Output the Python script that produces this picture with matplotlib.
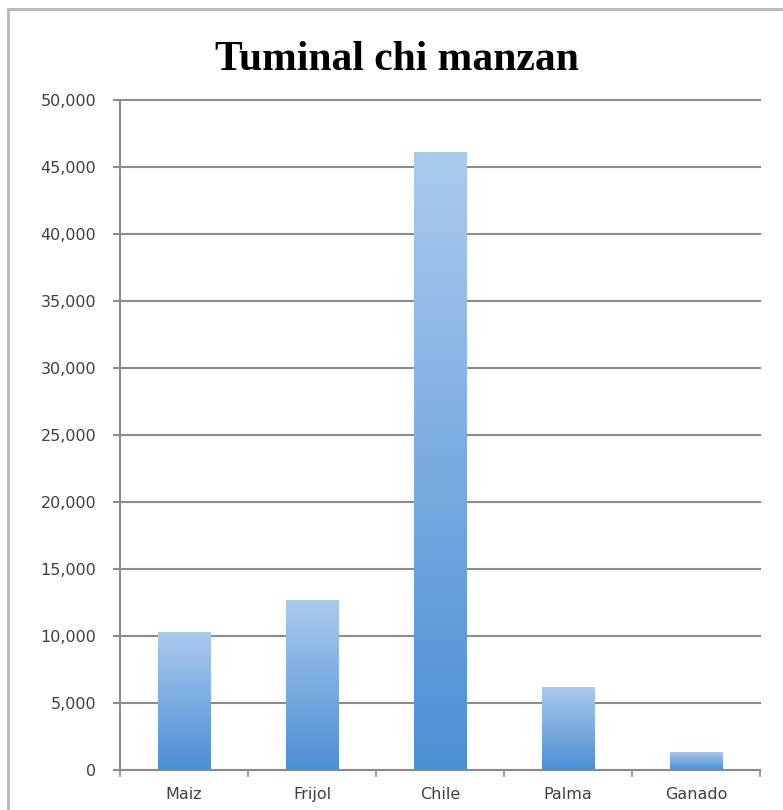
import numpy as np
import matplotlib
matplotlib.use("Agg")
import matplotlib.pyplot as plt
from matplotlib.colors import LinearSegmentedColormap
from matplotlib.patches import Rectangle
from matplotlib.ticker import FuncFormatter

# data
cultivos = ["Maiz", "Frijol", "Chile", "Palma", "Ganado"]
valores = [10300, 12700, 46100, 6200, 1350]
titulo = "Tuminal chi manzan"
y_ticks = list(range(0, 50001, 5000))

W, H = 783, 810
fig = plt.figure(figsize=(W / 100, H / 100), dpi=100)
fig.patch.set_facecolor("white")

# grey frame round the chart (cut off at right and bottom)
fig.patches.append(Rectangle((8 / W, -0.01), 1.0, 1 - 9 / H - (-0.01),
                             transform=fig.transFigure, fill=False,
                             edgecolor="#b8b8b8", linewidth=2))

ax = fig.add_axes([120 / W, (H - 770) / H, 640 / W, 670 / H])

x = np.arange(len(cultivos))
bars = ax.bar(x, valores, width=0.41, color="none", edgecolor="none", zorder=3)

# vertical gradient per bar, light at top, darker at bottom
cmap = LinearSegmentedColormap.from_list("azul", ["#4b8fd5", "#abcaee"])
grad = np.linspace(0, 1, 256).reshape(-1, 1)
for b in bars:
    x0, y0 = b.get_x(), b.get_y()
    im = ax.imshow(grad, cmap=cmap, aspect="auto", origin="lower",
                   extent=[x0, x0 + b.get_width(), y0, y0 + b.get_height()],
                   zorder=3)
    im.set_clip_path(b)

ax.set_xlim(-0.5, len(cultivos) - 0.5)
ax.set_ylim(0, 50000)
ax.set_yticks(y_ticks)
ax.yaxis.set_major_formatter(FuncFormatter(lambda v, p: "{:,}".format(int(v))))
ax.yaxis.grid(True, color="#8c8c8c", linewidth=1.5, zorder=1)
ax.set_axisbelow(True)
for gl in ax.get_ygridlines():
    gl.set_clip_on(False)

# category labels centred on bars, ticks on the boundaries
ax.set_xticks(x)
ax.set_xticklabels(cultivos)
ax.set_xticks(np.arange(-0.5, len(cultivos), 1.0), minor=True)
ax.tick_params(axis="x", which="major", length=0, pad=12,
               labelsize=11.5, labelcolor="#404040")
ax.tick_params(axis="x", which="minor", length=5, color="#8c8c8c", width=1.2)
ax.tick_params(axis="y", length=5, color="#8c8c8c", width=1.5, pad=12,
               labelsize=11.5, labelcolor="#404040")

for s in ["top", "right"]:
    ax.spines[s].set_visible(False)
ax.spines["left"].set_color("#8c8c8c")
ax.spines["bottom"].set_color("#8c8c8c")
ax.spines["left"].set_linewidth(1.5)
ax.spines["bottom"].set_linewidth(1.5)

fig.text(397 / W, 1 - 70 / H, titulo, ha="center", va="baseline",
         fontsize=30, fontweight="bold", family="Liberation Serif")

fig.savefig("out.png", dpi=100)
